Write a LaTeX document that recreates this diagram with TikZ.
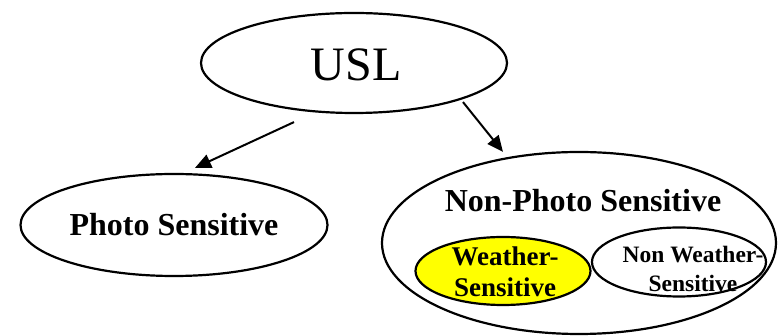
\documentclass[tikz,border=0pt]{standalone}
\usepackage{fontspec}
\setmainfont{Liberation Serif}
\usetikzlibrary{arrows.meta,calc,shapes,positioning}
\definecolor{color1}{RGB}{255,255,0}

\begin{document}
\begin{tikzpicture}[-, >={Triangle[length=16pt,width=14pt]}, x=1pt, y=-1pt,
	oval/.style={ellipse, draw, line width=2.2pt, inner sep=0pt},
	big/.style={font=\fontsize{32}{38}\selectfont\bfseries},
	mid/.style={font=\fontsize{27}{31}\selectfont\bfseries, align=center},
	small/.style={font=\fontsize{23.5}{29}\selectfont\bfseries, align=center}
]
\useasboundingbox (0,0) rectangle (780,336);

\node [oval, minimum width=306pt, minimum height=100pt] (usl) at (354,63) {};
\node [font=\fontsize{48}{56}\selectfont] (usltext) at (356,65) {USL};

\node [oval, minimum width=307pt, minimum height=102pt] (photo) at (174,225) {};
\node [big] (phototext) at (174,225) {Photo Sensitive};

\node [oval, minimum width=394pt, minimum height=182pt] (nonphoto) at (579,243) {};
\node [big] (nonphototext) at (583,201) {Non-Photo Sensitive};

% inner ovals
\node [oval, fill=color1, minimum width=175pt, minimum height=68pt] (weather) at (503,271) {};
\node [mid] (weathertext) at (505,272) {Weather-\\ Sensitive};
\node [oval, minimum width=174pt, minimum height=69pt] (nonweather) at (679,262) {};
\node [small] (nonweathertext) at (693,269) {Non Weather-\\ Sensitive};

\draw [->, line width=2pt] ([xshift=-60pt,yshift=-8pt]usl.south) -- ([xshift=21pt,yshift=5pt]photo.north);
\draw [->, line width=2pt] ([xshift=109pt,yshift=12pt]usl.south) -- ([xshift=-76pt,yshift=-1pt]nonphoto.north);
\end{tikzpicture}
\end{document}
